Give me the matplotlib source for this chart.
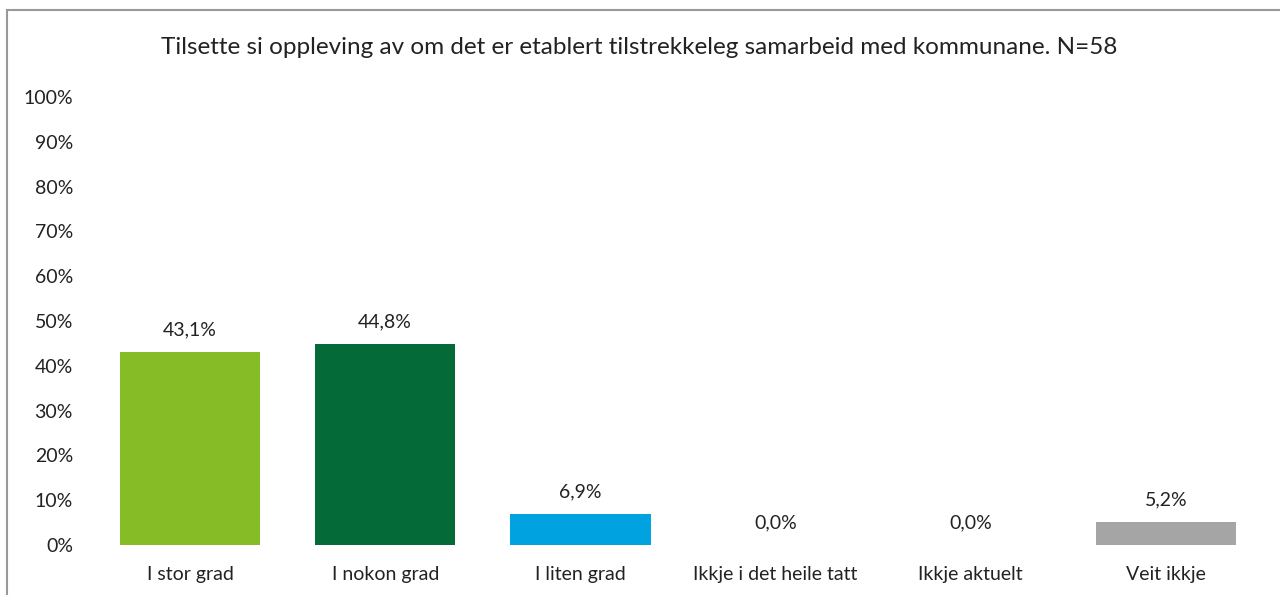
import matplotlib.pyplot as plt
from matplotlib.patches import Rectangle

categories = ['I stor grad', 'I nokon grad', 'I liten grad',
              'Ikkje i det heile tatt', 'Ikkje aktuelt', 'Veit ikkje']
values = [43.1, 44.8, 6.9, 0.0, 0.0, 5.2]
colors = ['#86BC25', '#046B38', '#00A3E0', '#FFFFFF', '#FFFFFF', '#A5A5A5']
title = 'Tilsette si oppleving av om det er etablert tilstrekkeleg samarbeid med kommunane. N=58'

plt.rcParams['font.family'] = ['Lato', 'DejaVu Sans']

fig = plt.figure(figsize=(12.8, 5.95), dpi=100)
ax = fig.add_axes([92.4 / 1280, 1 - 545 / 595, (1263.6 - 92.4) / 1280, (545 - 97) / 595])

x = range(len(categories))
ax.bar(x, values, width=0.72, color=colors)
for i, v in enumerate(values):
    ax.text(i, v + 3.0, f'{v:.1f}%'.replace('.', ','), ha='center', va='bottom',
            fontsize=14, color='#222222')

ax.set_xlim(-0.5, len(categories) - 0.5)
ax.set_ylim(0, 100)
ax.set_yticks(range(0, 101, 10))
ax.set_yticklabels([f'{t}%' for t in range(0, 101, 10)])
ax.set_xticks(list(x))
ax.set_xticklabels(categories)
ax.tick_params(axis='both', length=0, labelsize=14, colors='#222222')
ax.tick_params(axis='y', pad=14)
ax.tick_params(axis='x', pad=15)
for s in ax.spines.values():
    s.set_visible(False)

fig.text(639 / 1280, 1 - 48 / 595, title, ha='center', va='center', fontsize=17.5, color='#222222')

fig.patches.append(Rectangle((7 / 1280, -0.1), 1.2, 1 - 10 / 595 + 0.1,
                             transform=fig.transFigure, fill=False,
                             edgecolor='#999999', linewidth=1.5))

fig.savefig('out.png', dpi=100)
